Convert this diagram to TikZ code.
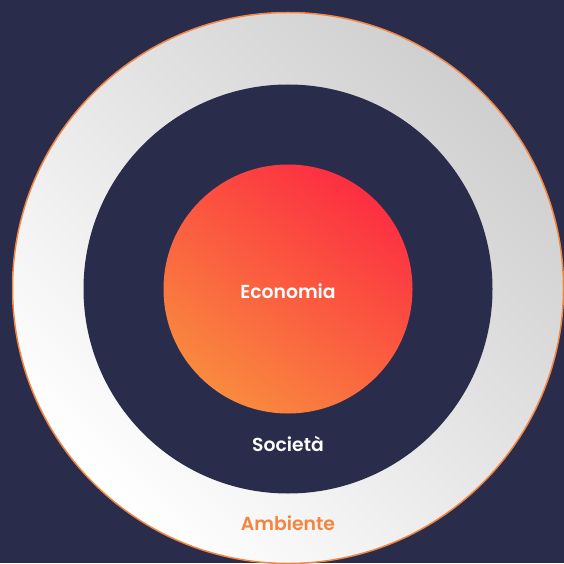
\documentclass[tikz,border=0pt]{standalone}
\usepackage{fontspec}
\setmainfont{Poppins}[UprightFont={* SemiBold}]
\usetikzlibrary{positioning,shapes,calc}

\definecolor{navy}{HTML}{292D4B}
\definecolor{envorange}{HTML}{F4843F}
\definecolor{ecored}{HTML}{FC2E41}
\definecolor{ecoorange}{HTML}{F98A3F}
\definecolor{ringgray}{HTML}{CFCFCF}

\tikzset{
  ring/.style={circle, inner sep=0pt},
  lbl/.style={font=\fontsize{18.8}{22}\selectfont, inner sep=0pt}
}

\begin{document}
\begin{tikzpicture}[x=1pt,y=1pt]

%background
\fill[navy] (0,0) rectangle (564,563);
\useasboundingbox (0,0) rectangle (564,563);

%Ambiente: outer ring with grey-white shading
\node[ring, minimum size=551pt, draw=envorange, line width=1.5pt,
      bottom color=white, top color=ringgray, shading angle=-45] (env) at (288,275) {};
%Societa: dark disc
\node[ring, minimum size=409pt, fill=navy] (soc) at (288,274) {};
%Economia: red-orange disc
\node[ring, minimum size=249pt, bottom color=ecoorange, top color=ecored, shading angle=-35] (eco) at (288,274) {};

%labels
\node[lbl, text=white] (ecolbl) at ($(eco)+(0,-2)$) {Economia};
\node[lbl, text=white, below=153pt of ecolbl.center, anchor=center] (soclbl) {Società};
\node[lbl, text=envorange, below=79pt of soclbl.center, anchor=center] (envlbl) {Ambiente};
\end{tikzpicture}
\end{document}
